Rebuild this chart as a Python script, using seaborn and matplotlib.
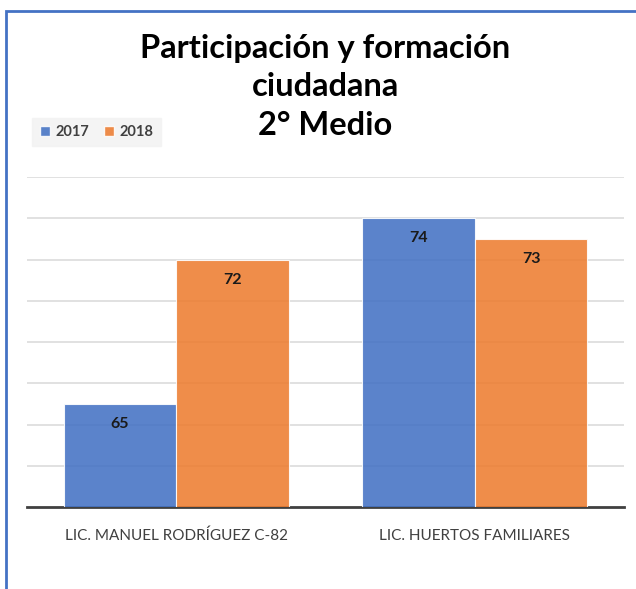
import numpy as np
import pandas as pd
import seaborn as sns
import matplotlib.pyplot as plt
from matplotlib.patches import Rectangle, Patch

categorias = ['LIC. MANUEL RODRÍGUEZ C-82', 'LIC. HUERTOS FAMILIARES']
anios = ['2017', '2018']
valores_2017 = [65, 74]
valores_2018 = [72, 73]
colores = ['#4472C4', '#ED7D31']
titulo = ['Participación y formación', 'ciudadana', '2° Medio']

df = pd.DataFrame({
    'categoria': categorias * 2,
    'anio': [anios[0]] * 2 + [anios[1]] * 2,
    'valor': valores_2017 + valores_2018,
})

sns.set_style('white')
plt.rcParams['font.family'] = ['Lato', 'DejaVu Sans']

fig = plt.figure(figsize=(6.36, 5.89), dpi=100)
ax = fig.add_axes([27/636, 1-507/589, 597/636, 330/589])

sns.barplot(data=df, x='categoria', y='valor', hue='anio', palette=colores,
            saturation=1, width=0.755, alpha=0.88, edgecolor='white', linewidth=0.8,
            ax=ax, legend=False, zorder=3)

ax.set_ylim(60, 76)
ax.set_xlim(-0.5, 1.5)
ax.set_yticks(np.arange(62, 77, 2))
ax.grid(axis='y', color='#d9d9d9', linewidth=1.1, zorder=1)
ax.set_axisbelow(True)
ax.tick_params(axis='y', left=False, labelleft=False)
ax.tick_params(axis='x', bottom=False, labelsize=11, labelcolor='#404040', pad=12)
ax.set_xlabel('')
ax.set_ylabel('')
for s in ['left', 'right', 'top']:
    ax.spines[s].set_visible(False)
ax.spines['bottom'].set_color('#404040')
ax.spines['bottom'].set_linewidth(2)

# etiquetas dentro de las barras
for cont in ax.containers:
    for bar in cont:
        h = bar.get_height()
        ax.annotate(f'{h:.0f}', (bar.get_x() + bar.get_width()/2, h),
                    xytext=(0, -20), textcoords='offset pixels',
                    ha='center', va='center', fontsize=11.5, fontweight='bold',
                    color='#1a1a1a', zorder=5)

# titulo en tres lineas
for linea, yb in zip(titulo, [58, 96, 135]):
    fig.text(325/636, 1-yb/589, linea, ha='center', va='baseline',
             fontsize=23.5, fontweight='bold', color='black')

handles = [Patch(facecolor=c, alpha=0.88) for c in colores]
leg = fig.legend(handles, anios, loc='center left', bbox_to_anchor=(25/636, 1-132/589),
                 ncol=2, frameon=True, prop={'weight': 'bold', 'size': 10.5},
                 handlelength=0.7, handleheight=0.7, handletextpad=0.4,
                 columnspacing=1.0, borderpad=0.5, fancybox=False)
leg.get_frame().set_facecolor('#f2f2f2')
leg.get_frame().set_edgecolor('#f2f2f2')
for t in leg.get_texts():
    t.set_color('#404040')

# marco azul
fig.add_artist(Rectangle((6/636, -0.1), 1.2, 1 - 11/589 + 0.1, transform=fig.transFigure,
                         fill=False, edgecolor='#4472C4', linewidth=2))

fig.savefig('out.png', dpi=100)
